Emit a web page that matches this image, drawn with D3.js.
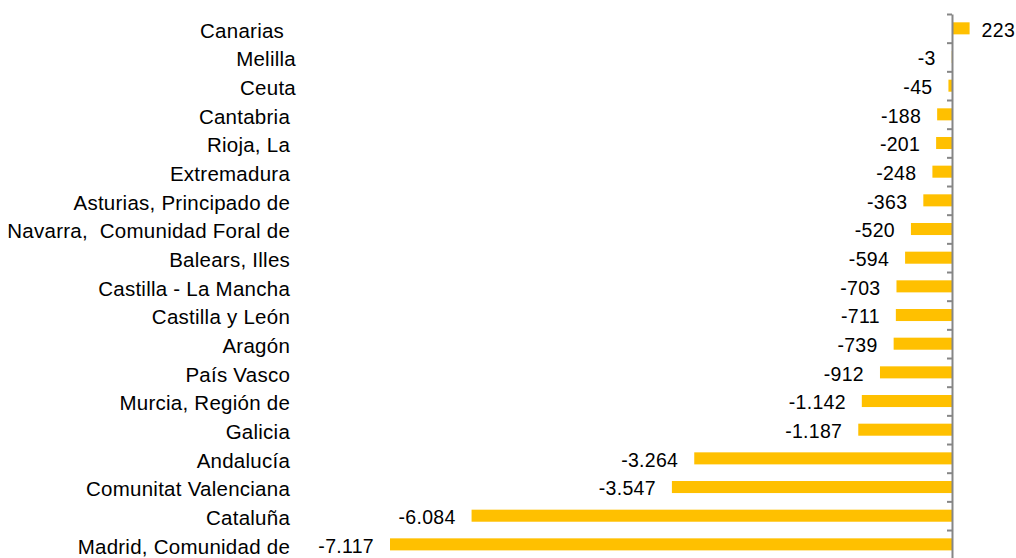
<!DOCTYPE html>
<html lang="es">

<head>
    <meta charset="utf-8">
    <title>Variación por comunidad</title>
    <script type="text/javascript" src="https://d3js.org/d3.v7.min.js"></script>
    <style type="text/css">
        body {
            margin: 0;
            background: #fff;
        }

        text {
            font-family: "Liberation Sans", Arial, sans-serif;
            fill: #000;
            white-space: pre;
        }
    </style>
</head>

<body>
    <svg width="1016" height="558"></svg>
    <script type="text/javascript">
        //Regions, top to bottom (some labels carry trailing spaces in the source)
        const regions = ['Canarias  ', 'Melilla', 'Ceuta', 'Cantabria ', 'Rioja, La ', 'Extremadura ',
            'Asturias, Principado de ', 'Navarra,  Comunidad Foral de ', 'Balears, Illes ',
            'Castilla - La Mancha ', 'Castilla y León ', 'Aragón ', 'País Vasco ',
            'Murcia, Región de ', 'Galicia ', 'Andalucía ', 'Comunitat Valenciana ',
            'Cataluña ', 'Madrid, Comunidad de ']

        const values = [223, -3, -45, -188, -201, -248, -363, -520, -594, -703, -711, -739,
            -912, -1142, -1187, -3264, -3547, -6084, -7117]

        const labels = ['223', '-3', '-45', '-188', '-201', '-248', '-363', '-520', '-594', '-703',
            '-711', '-739', '-912', '-1.142', '-1.187', '-3.264', '-3.547', '-6.084', '-7.117']

        const dataset = regions.map((r, i) => ({ region: r, value: values[i], label: labels[i] }))

        const svg = d3.select("svg");
        const plotTop = 14;
        const plotBottom = 558.7;

        //Scales
        const xScale = d3.scaleLinear()
            .domain([-7117, 223])
            .range([390, 969.6]);

        const yScale = d3.scaleBand()
            .domain(regions)
            .range([plotTop, plotBottom])
            .paddingInner(0.58)
            .paddingOuter(0.29);

        //Boundary scale for the tick marks between categories
        const edgeScale = d3.scaleLinear()
            .domain([0, regions.length])
            .range([plotTop, plotBottom]);

        //Bars
        svg.append('g')
            .selectAll('rect')
            .data(dataset)
            .enter()
            .append('rect')
            .attr('x', d => xScale(Math.min(0, d.value)))
            .attr('y', d => yScale(d.region))
            .attr('width', d => Math.abs(xScale(d.value) - xScale(0)))
            .attr('height', yScale.bandwidth())
            .attr('fill', '#FFC000');

        //Vertical axis at zero
        const leftAxis = d3.axisLeft(edgeScale)
            .tickValues(d3.range(regions.length + 1))
            .tickFormat('')
            .tickSizeInner(5)
            .tickSizeOuter(0);

        svg.append('g')
            .attr('transform', 'translate(' + xScale(0) + ',0)')
            .call(leftAxis)
            .call(g => g.select('.domain').attr('stroke', '#868686').attr('stroke-width', 2))
            .call(g => g.selectAll('.tick line').attr('stroke', '#868686').attr('stroke-width', 2));

        //Category labels
        svg.append('g')
            .selectAll('text')
            .data(dataset)
            .enter()
            .append('text')
            .attr('x', 296)
            .attr('y', d => yScale(d.region) + yScale.bandwidth() / 2)
            .attr('dy', '0.45em')
            .attr('text-anchor', 'end')
            .style('font-size', '20.5px')
            .style('letter-spacing', '0.25px')
            .text(d => d.region);

        //Value labels
        svg.append('g')
            .selectAll('text')
            .data(dataset)
            .enter()
            .append('text')
            .attr('x', d => d.value < 0 ? xScale(d.value) - 16 : xScale(d.value) + 12)
            .attr('y', d => yScale(d.region) + yScale.bandwidth() / 2)
            .attr('dy', '0.42em')
            .attr('text-anchor', d => d.value < 0 ? 'end' : 'start')
            .style('font-size', '19.5px')
            .style('letter-spacing', '0.3px')
            .text(d => d.label);
    </script>
</body>

</html>
